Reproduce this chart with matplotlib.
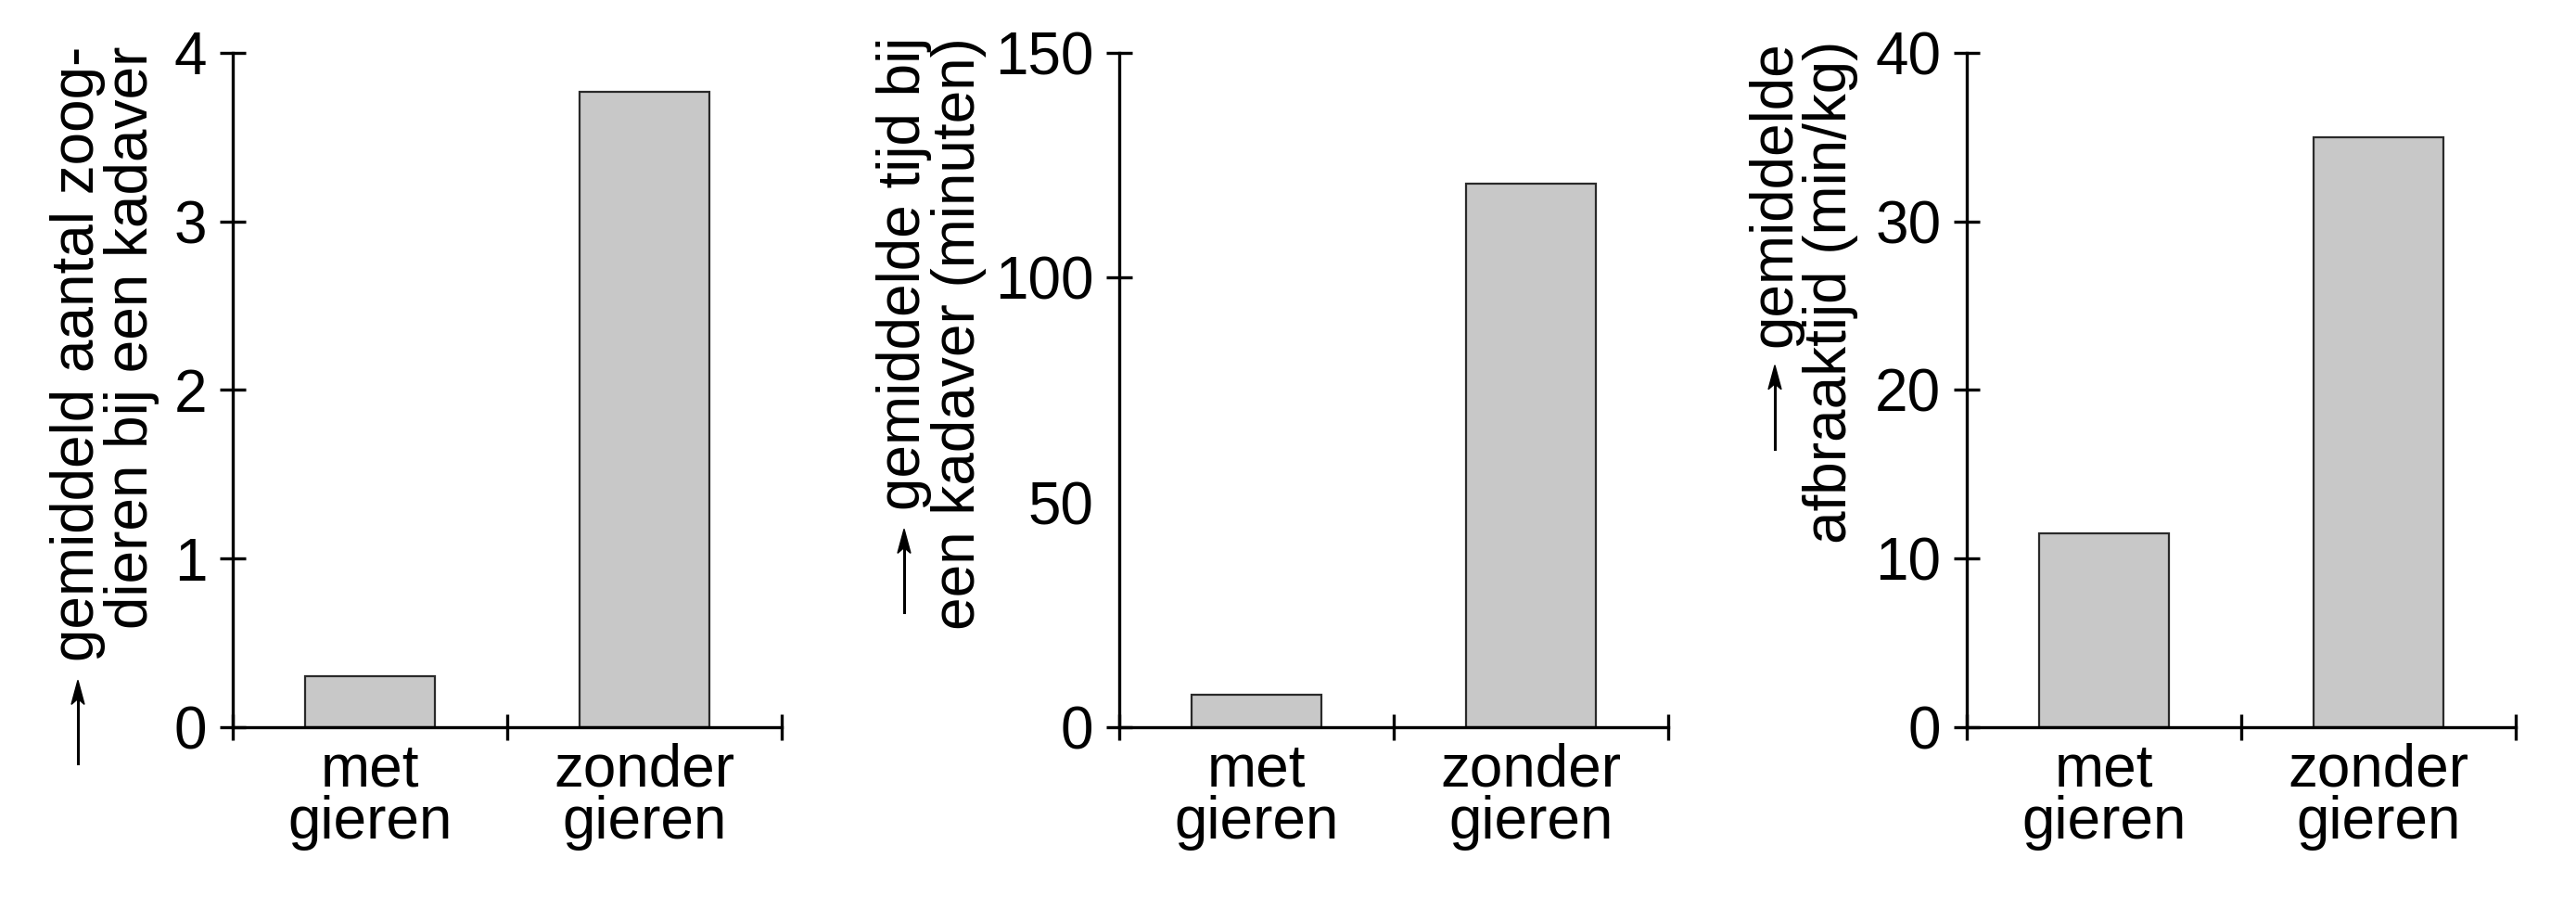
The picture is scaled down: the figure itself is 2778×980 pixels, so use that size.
import matplotlib.pyplot as plt

plt.rcParams['font.family'] = ['Liberation Sans', 'DejaVu Sans']

# data
categories = ['met\ngieren', 'zonder\ngieren']
zoogdieren = [0.3, 3.77]      # gemiddeld aantal zoogdieren bij een kadaver
tijd = [7.3, 121]             # gemiddelde tijd bij een kadaver (minuten)
afbraak = [11.5, 35]          # gemiddelde afbraaktijd (min/kg)

ylims = [4, 150, 40]
yticks = [[0, 1, 2, 3, 4], [0, 50, 100, 150], [0, 10, 20, 30, 40]]
# two lines per y label, the arrow goes in front of the first line
ylabels = [('gemiddeld aantal zoog-', 'dieren bij een kadaver'),
           ('gemiddelde tijd bij', 'een kadaver (minuten)'),
           ('gemiddelde', 'afbraaktijd (min/kg)')]
values = [zoogdieren, tijd, afbraak]

W, H = 2778, 980
fig = plt.figure(figsize=(W / 100, H / 100), dpi=100)

lefts = [251, 1207, 2121]
label_x = [(84, 142), (975, 1034), (1914, 1974)]
label_top = [50, 40, 44]
fs = 46

first_lines = []
for i in range(3):
    ax = fig.add_axes([lefts[i] / W, 196 / H, 592 / W, 727 / H])
    ax.bar([0, 1], values[i], width=0.47, color='#c8c8c8', edgecolor='#2a2a2a',
           linewidth=1.6, zorder=1)
    ax.set_xlim(-0.5, 1.5)
    ax.set_ylim(0, ylims[i])
    for s in ['top', 'right']:
        ax.spines[s].set_visible(False)
    for s in ['left', 'bottom']:
        ax.spines[s].set_linewidth(2.4)
        ax.spines[s].set_zorder(3)
    ax.set_yticks(yticks[i])
    ax.set_yticklabels([str(t) for t in yticks[i]], fontsize=fs)
    ax.set_xticks([-0.5, 0.5, 1.5])
    ax.set_xticklabels([])
    ax.set_xticks([0, 1], minor=True)
    ax.set_xticklabels(categories, minor=True, fontsize=fs, linespacing=0.92,
                       va='top')
    ax.tick_params(axis='both', which='major', direction='inout', length=20,
                   width=2.4, pad=8)
    ax.tick_params(axis='x', which='minor', length=0, pad=12)
    ax.tick_params(axis='y', pad=10)
    if i == 1:
        # no tick mark at 50 in the original panel
        ax.yaxis.get_major_ticks()[1].tick1line.set_visible(False)

    y = 1 - label_top[i] / H
    t1 = fig.text(label_x[i][0] / W, y, ylabels[i][0], rotation=90,
                  ha='center', va='top', fontsize=fs)
    fig.text(label_x[i][1] / W, y, ylabels[i][1], rotation=90,
             ha='center', va='top', fontsize=fs)
    first_lines.append(t1)

# arrows below the first label line
fig.canvas.draw()
r = fig.canvas.get_renderer()
for i, t1 in enumerate(first_lines):
    bb = t1.get_window_extent(r)
    tip = bb.y0 - 20
    tail = tip - 90
    x = label_x[i][0]
    fig.add_artist(plt.Line2D([x / W, x / W], [tail / H, (tip - 20) / H],
                              color='black', lw=2.2))
    fig.patches.append(plt.Polygon([[x / W, tip / H],
                                    [(x - 7) / W, (tip - 26) / H],
                                    [x / W, (tip - 20) / H],
                                    [(x + 7) / W, (tip - 26) / H]],
                                   closed=True, color='black',
                                   transform=fig.transFigure, figure=fig))

fig.savefig('out.png', dpi=100, facecolor='white')
